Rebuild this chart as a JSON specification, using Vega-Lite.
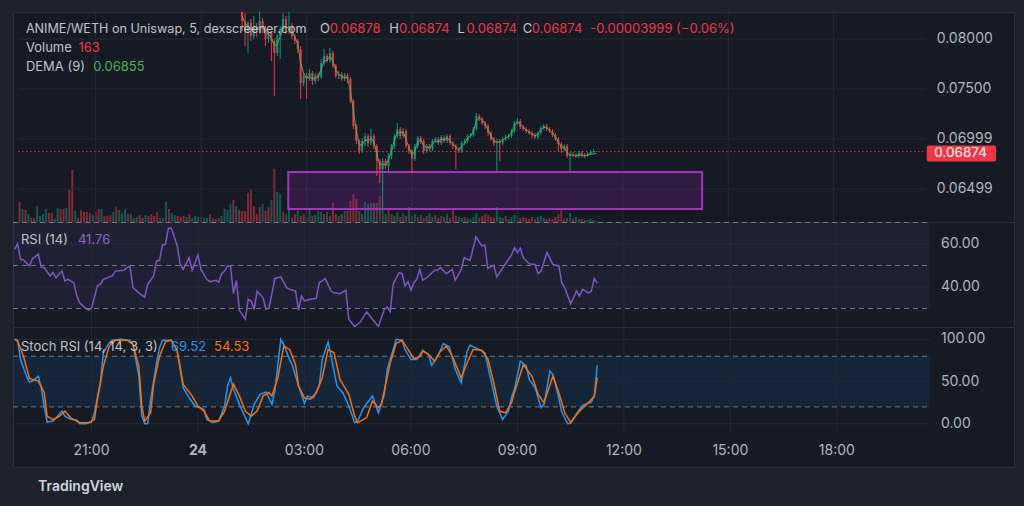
{
"$schema":"https://vega.github.io/schema/vega-lite/v6.json",
"background":"#1e222d",
"padding":{"left":12,"top":11,"right":11,"bottom":14},
"bounds":"flush",
"config":{"font":"Inter","view":{"fill":"#161a25","stroke":"#2a2e39","strokeWidth":1},"text":{"font":"Inter"}},
"title":{"text":"TradingView","orient":"bottom","anchor":"start","offset":12,"dx":26,"fontSize":14,"fontWeight":600,"color":"#d1d4dc","font":"Inter","baseline":"top"},
"datasets":{
"bars":[
{"i":14,"o":0.0833,"h":0.0836,"l":0.0808,"c":0.0818,"e":0.0823},
{"i":15,"o":0.0818,"h":0.0826,"l":0.0793,"c":0.0808,"e":0.0816},
{"i":16,"o":0.0808,"h":0.0818,"l":0.0786,"c":0.0816,"e":0.0813},
{"i":17,"o":0.0816,"h":0.0820,"l":0.0798,"c":0.0803,"e":0.0810},
{"i":18,"o":0.0803,"h":0.0823,"l":0.0800,"c":0.0813,"e":0.0810},
{"i":19,"o":0.0813,"h":0.0816,"l":0.0802,"c":0.0808,"e":0.0809},
{"i":20,"o":0.0808,"h":0.0828,"l":0.0805,"c":0.0818,"e":0.0812},
{"i":21,"o":0.0818,"h":0.0821,"l":0.0806,"c":0.0810,"e":0.0812},
{"i":22,"o":0.0810,"h":0.0813,"l":0.0793,"c":0.0800,"e":0.0807},
{"i":23,"o":0.0800,"h":0.0808,"l":0.0796,"c":0.0806,"e":0.0805},
{"i":24,"o":0.0806,"h":0.0808,"l":0.0778,"c":0.0798,"e":0.0801},
{"i":25,"o":0.0798,"h":0.0800,"l":0.0743,"c":0.0786,"e":0.0793},
{"i":26,"o":0.0786,"h":0.0805,"l":0.0783,"c":0.0803,"e":0.0795},
{"i":27,"o":0.0803,"h":0.0813,"l":0.0780,"c":0.0810,"e":0.0802},
{"i":28,"o":0.0810,"h":0.0826,"l":0.0808,"c":0.0820,"e":0.0811},
{"i":29,"o":0.0820,"h":0.0823,"l":0.0805,"c":0.0808,"e":0.0811},
{"i":30,"o":0.0808,"h":0.0838,"l":0.0805,"c":0.0813,"e":0.0812},
{"i":31,"o":0.0813,"h":0.0816,"l":0.0800,"c":0.0803,"e":0.0808},
{"i":32,"o":0.0803,"h":0.0805,"l":0.0795,"c":0.0798,"e":0.0802},
{"i":33,"o":0.0798,"h":0.0800,"l":0.0786,"c":0.0790,"e":0.0795},
{"i":34,"o":0.0790,"h":0.0793,"l":0.0740,"c":0.0756,"e":0.0776},
{"i":35,"o":0.0756,"h":0.0766,"l":0.0753,"c":0.0763,"e":0.0766},
{"i":36,"o":0.0763,"h":0.0766,"l":0.0740,"c":0.0760,"e":0.0761},
{"i":37,"o":0.0760,"h":0.0770,"l":0.0758,"c":0.0766,"e":0.0762},
{"i":38,"o":0.0766,"h":0.0768,"l":0.0754,"c":0.0758,"e":0.0760},
{"i":39,"o":0.0758,"h":0.0766,"l":0.0755,"c":0.0764,"e":0.0761},
{"i":40,"o":0.0764,"h":0.0766,"l":0.0758,"c":0.0762,"e":0.0762},
{"i":41,"o":0.0762,"h":0.0780,"l":0.0760,"c":0.0776,"e":0.0770},
{"i":42,"o":0.0776,"h":0.0790,"l":0.0774,"c":0.0783,"e":0.0778},
{"i":43,"o":0.0783,"h":0.0785,"l":0.0776,"c":0.0778,"e":0.0779},
{"i":44,"o":0.0778,"h":0.0791,"l":0.0776,"c":0.0786,"e":0.0783},
{"i":45,"o":0.0786,"h":0.0788,"l":0.0771,"c":0.0773,"e":0.0778},
{"i":46,"o":0.0773,"h":0.0775,"l":0.0761,"c":0.0763,"e":0.0769},
{"i":47,"o":0.0763,"h":0.0768,"l":0.0760,"c":0.0765,"e":0.0765},
{"i":48,"o":0.0765,"h":0.0767,"l":0.0758,"c":0.0760,"e":0.0762},
{"i":49,"o":0.0760,"h":0.0766,"l":0.0758,"c":0.0764,"e":0.0762},
{"i":50,"o":0.0764,"h":0.0766,"l":0.0756,"c":0.0760,"e":0.0761},
{"i":51,"o":0.0760,"h":0.0762,"l":0.0736,"c":0.0738,"e":0.0748},
{"i":52,"o":0.0738,"h":0.0740,"l":0.0710,"c":0.0713,"e":0.0728},
{"i":53,"o":0.0713,"h":0.0715,"l":0.0695,"c":0.0698,"e":0.0708},
{"i":54,"o":0.0698,"h":0.0700,"l":0.0685,"c":0.0688,"e":0.0694},
{"i":55,"o":0.0688,"h":0.0701,"l":0.0686,"c":0.0698,"e":0.0694},
{"i":56,"o":0.0698,"h":0.0706,"l":0.0693,"c":0.0703,"e":0.0699},
{"i":57,"o":0.0703,"h":0.0705,"l":0.0692,"c":0.0696,"e":0.0698},
{"i":58,"o":0.0696,"h":0.0710,"l":0.0694,"c":0.0703,"e":0.0701},
{"i":59,"o":0.0703,"h":0.0705,"l":0.0690,"c":0.0693,"e":0.0697},
{"i":60,"o":0.0693,"h":0.0695,"l":0.0663,"c":0.0678,"e":0.0685},
{"i":61,"o":0.0678,"h":0.0680,"l":0.0656,"c":0.0670,"e":0.0674},
{"i":62,"o":0.0670,"h":0.0681,"l":0.0628,"c":0.0678,"e":0.0675},
{"i":63,"o":0.0678,"h":0.0680,"l":0.0670,"c":0.0673,"e":0.0674},
{"i":64,"o":0.0673,"h":0.0686,"l":0.0668,"c":0.0683,"e":0.0679},
{"i":65,"o":0.0683,"h":0.0695,"l":0.0680,"c":0.0693,"e":0.0688},
{"i":66,"o":0.0693,"h":0.0705,"l":0.0690,"c":0.0703,"e":0.0698},
{"i":67,"o":0.0703,"h":0.0716,"l":0.0701,"c":0.0710,"e":0.0707},
{"i":68,"o":0.0710,"h":0.0712,"l":0.0700,"c":0.0703,"e":0.0706},
{"i":69,"o":0.0703,"h":0.0711,"l":0.0701,"c":0.0708,"e":0.0707},
{"i":70,"o":0.0708,"h":0.0710,"l":0.0691,"c":0.0693,"e":0.0699},
{"i":71,"o":0.0693,"h":0.0695,"l":0.0685,"c":0.0688,"e":0.0692},
{"i":72,"o":0.0688,"h":0.0690,"l":0.0666,"c":0.0680,"e":0.0684},
{"i":73,"o":0.0680,"h":0.0695,"l":0.0678,"c":0.0693,"e":0.0688},
{"i":74,"o":0.0693,"h":0.0703,"l":0.0690,"c":0.0701,"e":0.0697},
{"i":75,"o":0.0701,"h":0.0703,"l":0.0695,"c":0.0698,"e":0.0699},
{"i":76,"o":0.0698,"h":0.0700,"l":0.0685,"c":0.0688,"e":0.0693},
{"i":77,"o":0.0688,"h":0.0695,"l":0.0686,"c":0.0693,"e":0.0692},
{"i":78,"o":0.0693,"h":0.0695,"l":0.0688,"c":0.0690,"e":0.0691},
{"i":79,"o":0.0690,"h":0.0700,"l":0.0688,"c":0.0698,"e":0.0695},
{"i":80,"o":0.0698,"h":0.0702,"l":0.0696,"c":0.0700,"e":0.0698},
{"i":81,"o":0.0700,"h":0.0702,"l":0.0694,"c":0.0696,"e":0.0697},
{"i":82,"o":0.0696,"h":0.0704,"l":0.0694,"c":0.0702,"e":0.0700},
{"i":83,"o":0.0702,"h":0.0704,"l":0.0696,"c":0.0698,"e":0.0699},
{"i":84,"o":0.0698,"h":0.0705,"l":0.0696,"c":0.0703,"e":0.0701},
{"i":85,"o":0.0703,"h":0.0705,"l":0.0694,"c":0.0696,"e":0.0698},
{"i":86,"o":0.0696,"h":0.0698,"l":0.0690,"c":0.0693,"e":0.0695},
{"i":87,"o":0.0693,"h":0.0695,"l":0.0670,"c":0.0690,"e":0.0692},
{"i":88,"o":0.0690,"h":0.0692,"l":0.0686,"c":0.0688,"e":0.0689},
{"i":89,"o":0.0688,"h":0.0698,"l":0.0686,"c":0.0696,"e":0.0693},
{"i":90,"o":0.0696,"h":0.0700,"l":0.0694,"c":0.0698,"e":0.0696},
{"i":91,"o":0.0698,"h":0.0705,"l":0.0696,"c":0.0703,"e":0.0701},
{"i":92,"o":0.0703,"h":0.0706,"l":0.0701,"c":0.0704,"e":0.0703},
{"i":93,"o":0.0704,"h":0.0712,"l":0.0702,"c":0.0710,"e":0.0708},
{"i":94,"o":0.0710,"h":0.0726,"l":0.0708,"c":0.0723,"e":0.0718},
{"i":95,"o":0.0723,"h":0.0725,"l":0.0718,"c":0.0720,"e":0.0721},
{"i":96,"o":0.0720,"h":0.0722,"l":0.0714,"c":0.0716,"e":0.0719},
{"i":97,"o":0.0716,"h":0.0718,"l":0.0710,"c":0.0713,"e":0.0715},
{"i":98,"o":0.0713,"h":0.0715,"l":0.0703,"c":0.0706,"e":0.0709},
{"i":99,"o":0.0706,"h":0.0708,"l":0.0698,"c":0.0700,"e":0.0703},
{"i":100,"o":0.0700,"h":0.0702,"l":0.0693,"c":0.0696,"e":0.0698},
{"i":101,"o":0.0696,"h":0.0700,"l":0.0668,"c":0.0698,"e":0.0697},
{"i":102,"o":0.0698,"h":0.0700,"l":0.0678,"c":0.0696,"e":0.0697},
{"i":103,"o":0.0696,"h":0.0702,"l":0.0694,"c":0.0700,"e":0.0699},
{"i":104,"o":0.0700,"h":0.0704,"l":0.0698,"c":0.0702,"e":0.0701},
{"i":105,"o":0.0702,"h":0.0705,"l":0.0700,"c":0.0703,"e":0.0703},
{"i":106,"o":0.0703,"h":0.0710,"l":0.0701,"c":0.0708,"e":0.0706},
{"i":107,"o":0.0708,"h":0.0718,"l":0.0706,"c":0.0716,"e":0.0713},
{"i":108,"o":0.0716,"h":0.0721,"l":0.0714,"c":0.0718,"e":0.0717},
{"i":109,"o":0.0718,"h":0.0720,"l":0.0710,"c":0.0712,"e":0.0715},
{"i":110,"o":0.0712,"h":0.0714,"l":0.0708,"c":0.0710,"e":0.0712},
{"i":111,"o":0.0710,"h":0.0712,"l":0.0706,"c":0.0708,"e":0.0709},
{"i":112,"o":0.0708,"h":0.0710,"l":0.0704,"c":0.0706,"e":0.0707},
{"i":113,"o":0.0706,"h":0.0708,"l":0.0701,"c":0.0704,"e":0.0705},
{"i":114,"o":0.0704,"h":0.0706,"l":0.0700,"c":0.0702,"e":0.0703},
{"i":115,"o":0.0702,"h":0.0708,"l":0.0700,"c":0.0706,"e":0.0705},
{"i":116,"o":0.0706,"h":0.0713,"l":0.0704,"c":0.0711,"e":0.0709},
{"i":117,"o":0.0711,"h":0.0715,"l":0.0709,"c":0.0713,"e":0.0712},
{"i":118,"o":0.0713,"h":0.0715,"l":0.0708,"c":0.0710,"e":0.0711},
{"i":119,"o":0.0710,"h":0.0712,"l":0.0706,"c":0.0708,"e":0.0709},
{"i":120,"o":0.0708,"h":0.0710,"l":0.0702,"c":0.0704,"e":0.0706},
{"i":121,"o":0.0704,"h":0.0706,"l":0.0698,"c":0.0700,"e":0.0702},
{"i":122,"o":0.0700,"h":0.0702,"l":0.0688,"c":0.0695,"e":0.0697},
{"i":123,"o":0.0695,"h":0.0697,"l":0.0686,"c":0.0690,"e":0.0692},
{"i":124,"o":0.0690,"h":0.0695,"l":0.0688,"c":0.0693,"e":0.0692},
{"i":125,"o":0.0693,"h":0.0695,"l":0.0681,"c":0.0683,"e":0.0686},
{"i":126,"o":0.0683,"h":0.0687,"l":0.0668,"c":0.0685,"e":0.0684},
{"i":127,"o":0.0685,"h":0.0687,"l":0.0682,"c":0.0684,"e":0.0684},
{"i":128,"o":0.0684,"h":0.0686,"l":0.0681,"c":0.0683,"e":0.0683},
{"i":129,"o":0.0683,"h":0.0688,"l":0.0681,"c":0.0686,"e":0.0684},
{"i":130,"o":0.0686,"h":0.0688,"l":0.0682,"c":0.0684,"e":0.0684},
{"i":131,"o":0.0684,"h":0.0686,"l":0.0681,"c":0.0683,"e":0.0683},
{"i":132,"o":0.0683,"h":0.0687,"l":0.0682,"c":0.0685,"e":0.0684},
{"i":133,"o":0.0685,"h":0.0689,"l":0.0684,"c":0.0687,"e":0.0685},
{"i":134,"o":0.0687,"h":0.0690,"l":0.0686,"c":0.06878,"e":0.0685},
{"i":135,"o":0.06878,"h":0.06878,"l":0.06874,"c":0.06874,"e":0.06855}
],
"vol":[
{"i":-62,"v":3200,"u":0},{"i":-61,"v":2080,"u":1},{"i":-60,"v":1920,"u":0},{"i":-59,"v":1280,"u":1},{"i":-58,"v":640,"u":0},{"i":-57,"v":640,"u":0},{"i":-56,"v":2560,"u":1},{"i":-55,"v":960,"u":1},{"i":-54,"v":1280,"u":1},{"i":-53,"v":2080,"u":1},{"i":-52,"v":1440,"u":0},{"i":-51,"v":1440,"u":0},{"i":-50,"v":480,"u":1},{"i":-49,"v":2240,"u":1},{"i":-48,"v":2080,"u":0},{"i":-47,"v":2080,"u":0},{"i":-46,"v":2240,"u":1},{"i":-45,"v":5120,"u":0},{"i":-44,"v":8320,"u":0},{"i":-43,"v":1760,"u":1},{"i":-42,"v":640,"u":0},{"i":-41,"v":1920,"u":0},{"i":-40,"v":1600,"u":0},{"i":-39,"v":1600,"u":0},{"i":-38,"v":1440,"u":0},{"i":-37,"v":1120,"u":1},{"i":-36,"v":1600,"u":0},{"i":-35,"v":2080,"u":0},{"i":-34,"v":2080,"u":1},{"i":-33,"v":960,"u":0},{"i":-32,"v":960,"u":0},{"i":-31,"v":1120,"u":0},{"i":-30,"v":1600,"u":1},{"i":-29,"v":2400,"u":0},{"i":-28,"v":1920,"u":1},{"i":-27,"v":1440,"u":1},{"i":-26,"v":2080,"u":1},{"i":-25,"v":1280,"u":0},{"i":-24,"v":1280,"u":1},{"i":-23,"v":640,"u":0},{"i":-22,"v":800,"u":1},{"i":-21,"v":1120,"u":0},{"i":-20,"v":640,"u":0},{"i":-19,"v":1120,"u":1},{"i":-18,"v":960,"u":0},{"i":-17,"v":1280,"u":0},{"i":-16,"v":960,"u":0},{"i":-15,"v":1600,"u":0},{"i":-14,"v":640,"u":1},{"i":-13,"v":640,"u":0},{"i":-12,"v":3200,"u":1},{"i":-11,"v":2080,"u":0},{"i":-10,"v":1440,"u":1},{"i":-9,"v":1120,"u":1},{"i":-8,"v":960,"u":0},{"i":-7,"v":800,"u":0},{"i":-6,"v":960,"u":0},{"i":-5,"v":800,"u":1},{"i":-4,"v":1280,"u":0},{"i":-3,"v":640,"u":1},{"i":-2,"v":960,"u":1},{"i":-1,"v":800,"u":1},
{"i":0,"v":800,"u":0},{"i":1,"v":640,"u":1},{"i":2,"v":640,"u":1},{"i":3,"v":1280,"u":0},{"i":4,"v":640,"u":1},{"i":5,"v":480,"u":0},{"i":6,"v":640,"u":0},{"i":7,"v":960,"u":1},{"i":8,"v":2080,"u":1},{"i":9,"v":1920,"u":1},{"i":10,"v":2880,"u":1},{"i":11,"v":3520,"u":0},{"i":12,"v":2560,"u":1},{"i":13,"v":1920,"u":0},{"i":14,"v":1760,"u":0},{"i":15,"v":1760,"u":0},{"i":16,"v":4640,"u":0},{"i":17,"v":5120,"u":0},{"i":18,"v":2560,"u":0},{"i":19,"v":1280,"u":0},{"i":20,"v":2400,"u":0},{"i":21,"v":2880,"u":1},{"i":22,"v":1760,"u":0},{"i":23,"v":2400,"u":0},{"i":24,"v":3520,"u":1},{"i":25,"v":8480,"u":0},{"i":26,"v":4800,"u":1},{"i":27,"v":4480,"u":1},{"i":28,"v":1600,"u":0},{"i":29,"v":1280,"u":1},{"i":30,"v":2560,"u":1},{"i":31,"v":640,"u":0},{"i":32,"v":1280,"u":0},{"i":33,"v":1760,"u":1},{"i":34,"v":960,"u":0},{"i":35,"v":1280,"u":0},{"i":36,"v":800,"u":1},{"i":37,"v":1920,"u":1},{"i":38,"v":960,"u":0},{"i":39,"v":1120,"u":1},{"i":40,"v":1760,"u":1},{"i":41,"v":1600,"u":1},{"i":42,"v":1280,"u":0},{"i":43,"v":1600,"u":1},{"i":44,"v":960,"u":0},{"i":45,"v":3040,"u":0},{"i":46,"v":1280,"u":0},{"i":47,"v":960,"u":1},{"i":48,"v":1280,"u":0},{"i":49,"v":1760,"u":1},{"i":50,"v":1760,"u":0},{"i":51,"v":3360,"u":0},{"i":52,"v":4480,"u":0},{"i":53,"v":3680,"u":0},{"i":54,"v":1760,"u":1},{"i":55,"v":1280,"u":0},{"i":56,"v":3200,"u":1},{"i":57,"v":2880,"u":1},{"i":58,"v":3040,"u":1},{"i":59,"v":3040,"u":0},{"i":60,"v":3040,"u":1},{"i":61,"v":4160,"u":0},{"i":62,"v":1760,"u":1},{"i":63,"v":1280,"u":1},{"i":64,"v":1920,"u":0},{"i":65,"v":1280,"u":1},{"i":66,"v":960,"u":0},{"i":67,"v":1600,"u":1},{"i":68,"v":800,"u":0},{"i":69,"v":1280,"u":1},{"i":70,"v":960,"u":0},{"i":71,"v":2400,"u":1},{"i":72,"v":960,"u":0},{"i":73,"v":1280,"u":1},{"i":74,"v":800,"u":0},{"i":75,"v":1120,"u":1},{"i":76,"v":640,"u":0},{"i":77,"v":960,"u":0},{"i":78,"v":1440,"u":1},{"i":79,"v":800,"u":1},{"i":80,"v":1120,"u":0},{"i":81,"v":640,"u":0},{"i":82,"v":960,"u":1},{"i":83,"v":800,"u":0},{"i":84,"v":1280,"u":1},{"i":85,"v":640,"u":0},{"i":86,"v":2080,"u":0},{"i":87,"v":960,"u":0},{"i":88,"v":800,"u":1},{"i":89,"v":640,"u":1},{"i":90,"v":800,"u":0},{"i":91,"v":640,"u":1},{"i":92,"v":480,"u":1},{"i":93,"v":800,"u":1},{"i":94,"v":1440,"u":1},{"i":95,"v":640,"u":0},{"i":96,"v":960,"u":0},{"i":97,"v":1280,"u":0},{"i":98,"v":1120,"u":0},{"i":99,"v":800,"u":0},{"i":100,"v":640,"u":0},{"i":101,"v":2400,"u":1},{"i":102,"v":800,"u":1},{"i":103,"v":640,"u":1},{"i":104,"v":960,"u":0},{"i":105,"v":480,"u":1},{"i":106,"v":800,"u":1},{"i":107,"v":1120,"u":1},{"i":108,"v":960,"u":1},{"i":109,"v":640,"u":0},{"i":110,"v":800,"u":0},{"i":111,"v":640,"u":0},{"i":112,"v":480,"u":0},{"i":113,"v":800,"u":0},{"i":114,"v":480,"u":0},{"i":115,"v":800,"u":1},{"i":116,"v":960,"u":1},{"i":117,"v":640,"u":1},{"i":118,"v":480,"u":0},{"i":119,"v":640,"u":0},{"i":120,"v":480,"u":0},{"i":121,"v":800,"u":0},{"i":122,"v":1280,"u":0},{"i":123,"v":1920,"u":0},{"i":124,"v":480,"u":1},{"i":125,"v":640,"u":0},{"i":126,"v":1440,"u":1},{"i":127,"v":480,"u":0},{"i":128,"v":800,"u":1},{"i":129,"v":480,"u":0},{"i":130,"v":480,"u":1},{"i":131,"v":320,"u":0},{"i":132,"v":320,"u":1},{"i":133,"v":480,"u":1},{"i":134,"v":320,"u":1},{"i":135,"v":163,"u":0}
],
"rsi":[
{"i":-62,"r":57.5},{"i":-61,"r":60.1},{"i":-60,"r":53},{"i":-59,"r":52.6},{"i":-57,"r":49.8},{"i":-56,"r":53},{"i":-54,"r":55.3},{"i":-53,"r":49.3},{"i":-52,"r":49},{"i":-50,"r":45.1},{"i":-49,"r":46.7},{"i":-48,"r":44.3},{"i":-46,"r":47.4},{"i":-45,"r":42.8},{"i":-44,"r":43.6},{"i":-42,"r":42},{"i":-41,"r":36},{"i":-40,"r":32.7},{"i":-38,"r":30.1},{"i":-37,"r":29.2},{"i":-36,"r":30.1},{"i":-34,"r":40.5},{"i":-33,"r":41.3},{"i":-32,"r":43.6},{"i":-30,"r":44.7},{"i":-29,"r":45.1},{"i":-28,"r":47.4},{"i":-25,"r":47.8},{"i":-24,"r":49},{"i":-23,"r":49.8},{"i":-22,"r":39.7},{"i":-20,"r":37.3},{"i":-18,"r":35.3},{"i":-17,"r":41.3},{"i":-15,"r":45.1},{"i":-14,"r":52.1},{"i":-13,"r":52.4},{"i":-12,"r":59.5},{"i":-11,"r":59.8},{"i":-10,"r":67.3},{"i":-9,"r":67.3},{"i":-7,"r":59.1},{"i":-6,"r":50.8},{"i":-5,"r":48.2},{"i":-3,"r":53.6},{"i":-2,"r":47.8},{"i":0,"r":54.9},{"i":1,"r":48.2},{"i":3,"r":43.6},{"i":4,"r":42.5},{"i":6,"r":43.1},{"i":7,"r":42.3},{"i":8,"r":46.2},{"i":9,"r":47.4},{"i":10,"r":49.8},{"i":11,"r":49.8},{"i":12,"r":36.9},{"i":13,"r":43.1},{"i":14,"r":29.2},{"i":16,"r":25},{"i":17,"r":34.3},{"i":18,"r":33.5},{"i":19,"r":29.6},{"i":20,"r":38.1},{"i":22,"r":35},{"i":23,"r":29.6},{"i":24,"r":30.1},{"i":26,"r":44},{"i":28,"r":44.7},{"i":30,"r":39.7},{"i":31,"r":38.9},{"i":33,"r":38.1},{"i":34,"r":29.2},{"i":35,"r":35.8},{"i":36,"r":33.5},{"i":38,"r":34.3},{"i":40,"r":34.7},{"i":41,"r":42},{"i":42,"r":42.8},{"i":43,"r":44},{"i":45,"r":38.1},{"i":46,"r":37.3},{"i":48,"r":36.9},{"i":50,"r":38.5},{"i":51,"r":25},{"i":53,"r":21.6},{"i":55,"r":23.9},{"i":57,"r":28.5},{"i":59,"r":25},{"i":61,"r":21.6},{"i":63,"r":29.6},{"i":64,"r":30.7},{"i":65,"r":28.5},{"i":66,"r":41.3},{"i":68,"r":46.7},{"i":69,"r":46.2},{"i":70,"r":40.5},{"i":71,"r":42.5},{"i":72,"r":38.5},{"i":73,"r":42},{"i":74,"r":43.6},{"i":75,"r":48.2},{"i":76,"r":43.1},{"i":78,"r":45.1},{"i":80,"r":47.8},{"i":81,"r":47.8},{"i":82,"r":49},{"i":84,"r":46.2},{"i":86,"r":48.2},{"i":87,"r":43.1},{"i":89,"r":48.2},{"i":90,"r":53.6},{"i":92,"r":52.4},{"i":94,"r":63.3},{"i":96,"r":59.1},{"i":97,"r":59.5},{"i":98,"r":48.7},{"i":100,"r":50.2},{"i":101,"r":44.7},{"i":104,"r":50.8},{"i":106,"r":54.9},{"i":107,"r":58.3},{"i":108,"r":56},{"i":109,"r":58},{"i":110,"r":53.6},{"i":112,"r":50.8},{"i":114,"r":50.5},{"i":115,"r":46.2},{"i":116,"r":47.4},{"i":118,"r":56},{"i":120,"r":50.5},{"i":122,"r":49.8},{"i":123,"r":42},{"i":124,"r":39.7},{"i":126,"r":32.2},{"i":128,"r":38.1},{"i":129,"r":35.8},{"i":130,"r":38.9},{"i":132,"r":37.3},{"i":133,"r":38.1},{"i":134,"r":44},{"i":135,"r":41.76}
],
"k":[
{"i":-62,"v":100},{"i":-61,"v":99},{"i":-60,"v":76},{"i":-58,"v":56.5},{"i":-57,"v":49.4},{"i":-56,"v":50.6},{"i":-54,"v":56.5},{"i":-53,"v":42.7},{"i":-52,"v":21},{"i":-51,"v":2},{"i":-49,"v":3.2},{"i":-47,"v":11},{"i":-46,"v":15},{"i":-45,"v":9},{"i":-43,"v":5.2},{"i":-41,"v":4.4},{"i":-40,"v":0},{"i":-38,"v":0},{"i":-36,"v":2},{"i":-35,"v":13},{"i":-33,"v":48.6},{"i":-32,"v":84},{"i":-30,"v":96},{"i":-29,"v":99},{"i":-26,"v":100},{"i":-23,"v":99},{"i":-22,"v":94},{"i":-20,"v":56.5},{"i":-19,"v":9},{"i":-18,"v":0},{"i":-17,"v":0},{"i":-16,"v":29},{"i":-14,"v":72},{"i":-13,"v":90},{"i":-12,"v":99},{"i":-9,"v":99},{"i":-7,"v":86},{"i":-5,"v":42.7},{"i":-3,"v":30.8},{"i":-1,"v":21},{"i":2,"v":17},{"i":3,"v":5.2},{"i":5,"v":1.2},{"i":7,"v":3.2},{"i":9,"v":21},{"i":10,"v":44.7},{"i":11,"v":54.5},{"i":12,"v":40.8},{"i":14,"v":23},{"i":17,"v":0},{"i":19,"v":23},{"i":21,"v":34.8},{"i":23,"v":37.6},{"i":25,"v":23},{"i":26,"v":38.7},{"i":28,"v":100},{"i":29,"v":94},{"i":31,"v":76},{"i":32,"v":68.4},{"i":34,"v":44.7},{"i":36,"v":24.2},{"i":37,"v":32.8},{"i":39,"v":30.8},{"i":41,"v":44.7},{"i":42,"v":76},{"i":44,"v":96.8},{"i":45,"v":80.2},{"i":47,"v":44.7},{"i":49,"v":36.7},{"i":51,"v":21},{"i":53,"v":1.2},{"i":54,"v":3.2},{"i":56,"v":19},{"i":59,"v":32.8},{"i":61,"v":13},{"i":63,"v":34.8},{"i":64,"v":64.5},{"i":66,"v":88},{"i":67,"v":100},{"i":69,"v":99},{"i":70,"v":88},{"i":72,"v":76},{"i":74,"v":76},{"i":76,"v":87},{"i":78,"v":82},{"i":79,"v":69},{"i":81,"v":80},{"i":83,"v":95},{"i":85,"v":91},{"i":87,"v":64.5},{"i":89,"v":48.6},{"i":91,"v":86},{"i":92,"v":93},{"i":95,"v":88},{"i":97,"v":84},{"i":99,"v":52.6},{"i":101,"v":21},{"i":103,"v":5.2},{"i":105,"v":15},{"i":106,"v":30.8},{"i":107,"v":40.8},{"i":109,"v":74},{"i":111,"v":68.4},{"i":112,"v":52.6},{"i":114,"v":42.7},{"i":116,"v":19},{"i":117,"v":23},{"i":119,"v":62.4},{"i":120,"v":58.5},{"i":122,"v":30.8},{"i":123,"v":13.9},{"i":125,"v":0},{"i":126,"v":0.5},{"i":128,"v":12.3},{"i":130,"v":21.8},{"i":133,"v":25.7},{"i":134,"v":32.8},{"i":135,"v":69.52}
],
"d":[
{"i":-62,"v":100},{"i":-61,"v":98},{"i":-59,"v":80},{"i":-57,"v":54},{"i":-56,"v":52.6},{"i":-54,"v":50.6},{"i":-52,"v":37},{"i":-51,"v":9},{"i":-49,"v":5},{"i":-47,"v":8.4},{"i":-45,"v":15},{"i":-43,"v":7},{"i":-40,"v":1.2},{"i":-37,"v":1.2},{"i":-35,"v":5},{"i":-34,"v":29},{"i":-32,"v":68},{"i":-30,"v":92},{"i":-28,"v":99},{"i":-24,"v":99},{"i":-22,"v":94},{"i":-20,"v":68},{"i":-19,"v":21},{"i":-18,"v":3.2},{"i":-16,"v":13},{"i":-15,"v":47},{"i":-13,"v":80},{"i":-11,"v":97},{"i":-9,"v":99},{"i":-7,"v":86},{"i":-5,"v":46.7},{"i":-2,"v":33},{"i":0,"v":21},{"i":2,"v":15},{"i":4,"v":3.2},{"i":7,"v":3.2},{"i":9,"v":15},{"i":12,"v":47},{"i":14,"v":33},{"i":16,"v":15},{"i":18,"v":9},{"i":20,"v":15},{"i":22,"v":33},{"i":24,"v":37},{"i":25,"v":33},{"i":27,"v":54.5},{"i":29,"v":92},{"i":31,"v":88},{"i":33,"v":70},{"i":34,"v":44.7},{"i":36,"v":30.8},{"i":38,"v":29},{"i":40,"v":36.7},{"i":42,"v":54.5},{"i":44,"v":88},{"i":46,"v":84},{"i":48,"v":52.6},{"i":51,"v":34.8},{"i":53,"v":9},{"i":54,"v":1.2},{"i":57,"v":7},{"i":59,"v":27},{"i":61,"v":19},{"i":62,"v":23},{"i":65,"v":72},{"i":67,"v":95},{"i":69,"v":99},{"i":71,"v":88},{"i":73,"v":77},{"i":75,"v":79.6},{"i":76,"v":86},{"i":78,"v":82},{"i":80,"v":74},{"i":82,"v":86},{"i":84,"v":92},{"i":86,"v":80},{"i":89,"v":54.5},{"i":91,"v":72},{"i":93,"v":88},{"i":96,"v":87},{"i":98,"v":77},{"i":100,"v":48.6},{"i":102,"v":15},{"i":104,"v":13},{"i":106,"v":25},{"i":107,"v":37},{"i":110,"v":70},{"i":113,"v":56},{"i":115,"v":34.8},{"i":117,"v":25},{"i":120,"v":56.5},{"i":122,"v":37},{"i":124,"v":13},{"i":126,"v":1.6},{"i":129,"v":15},{"i":132,"v":25},{"i":134,"v":32.8},{"i":135,"v":54.53}
]
},
"vconcat":[
{
"width":1001,"height":210,
"resolve":{"scale":{"y":"independent"}},
"layer":[
{"data":{"name":"vol"},"mark":{"type":"bar","width":2,"opacity":0.5},
 "encoding":{"x":{"field":"i","type":"quantitative","scale":{"domain":[-62.54,275.9],"nice":false,"zero":false},"axis":null},
 "y":{"field":"v","type":"quantitative","scale":{"domain":[0,33600],"nice":false},"axis":null},
 "color":{"condition":{"test":"datum.u==1","value":"#089981"},"value":"#f23645"}}},
{"data":{"values":[{}]},
 "layer":[
 {"data":{"values":[{"g":-36},{"g":0},{"g":36},{"g":72},{"g":108},{"g":144},{"g":180},{"g":216}]},"mark":{"type":"rule","color":"#252934"},
  "encoding":{"x":{"field":"g","type":"quantitative","axis":null}}},
 {"data":{"values":[{"p":0.08},{"p":0.075},{"p":0.07},{"p":0.065}]},"mark":{"type":"rule","color":"#252934"},
  "encoding":{"y":{"field":"p","type":"quantitative","scale":{"domain":[0.0617,0.0827],"nice":false,"zero":false},"axis":null},
   "x":{"datum":-62.54,"axis":null},"x2":{"datum":247.5}}},
 {"mark":{"type":"rect","fill":"#9c27b0","fillOpacity":0.2,"stroke":"#a231bd","strokeWidth":2},
  "encoding":{"x":{"datum":29.75,"axis":null},"x2":{"datum":171.1},"y":{"datum":0.0667,"axis":null},"y2":{"datum":0.063}}},
 {"mark":{"type":"rule","color":"#f23645","strokeDash":[1.5,2.5],"strokeWidth":1},
  "encoding":{"y":{"datum":0.06874,"axis":null},"x":{"datum":-62.54,"axis":null},"x2":{"datum":247.5}}},
 {"data":{"name":"bars"},"mark":{"type":"rule","strokeWidth":1,"clip":true},
  "encoding":{"x":{"field":"i","type":"quantitative","axis":null},"y":{"field":"l","type":"quantitative","axis":null},"y2":{"field":"h"},
  "color":{"condition":{"test":"datum.c>=datum.o","value":"#089981"},"value":"#f23645"}}},
 {"data":{"name":"bars"},"mark":{"type":"bar","width":2,"clip":true},
  "encoding":{"x":{"field":"i","type":"quantitative","axis":null},"y":{"field":"o","type":"quantitative","axis":null},"y2":{"field":"c"},
  "color":{"condition":{"test":"datum.c>=datum.o","value":"#089981"},"value":"#f23645"}}},
 {"data":{"name":"bars"},"mark":{"type":"line","color":"#4caf50","strokeWidth":1,"clip":true},
  "encoding":{"x":{"field":"i","type":"quantitative","axis":null},"y":{"field":"e","type":"quantitative","axis":null}}},
 {"data":{"values":[{"p":0.08},{"p":0.075},{"p":0.06999},{"p":0.06499}]},"mark":{"type":"text","align":"left","baseline":"middle","fontSize":14,"color":"#b2b5be"},
  "encoding":{"y":{"field":"p","type":"quantitative","axis":null},"x":{"datum":251.2,"axis":null},"text":{"field":"p","type":"quantitative","format":".5f"}}},
 {"mark":{"type":"rect","fill":"#f23645","cornerRadius":2},
  "encoding":{"x":{"datum":247.8,"axis":null},"x2":{"datum":271.5},"y":{"datum":0.06935,"axis":null},"y2":{"datum":0.06775}}},
 {"mark":{"type":"text","align":"left","baseline":"middle","fontSize":13.5,"color":"#ffffff"},
  "encoding":{"x":{"datum":250.4,"axis":null},"y":{"datum":0.06856,"axis":null},"text":{"value":"0.06874"}}},
 {"mark":{"type":"text","align":"left","baseline":"middle","fontSize":12.6,"color":"#c0c3ca"},
  "encoding":{"x":{"datum":-59.84,"axis":null},"y":{"datum":0.081,"axis":null},"text":{"value":"ANIME/WETH on Uniswap, 5, dexscreener.com"}}},
 {"mark":{"type":"text","align":"left","baseline":"middle","fontSize":13,"color":"#c0c3ca"},
  "encoding":{"x":{"datum":40.57,"axis":null},"y":{"datum":0.081,"axis":null},"text":{"value":"O"}}},
 {"mark":{"type":"text","align":"left","baseline":"middle","fontSize":13,"color":"#f23645"},
  "encoding":{"x":{"datum":43.95,"axis":null},"y":{"datum":0.081,"axis":null},"text":{"value":"0.06878"}}},
 {"mark":{"type":"text","align":"left","baseline":"middle","fontSize":13,"color":"#c0c3ca"},
  "encoding":{"x":{"datum":64.23,"axis":null},"y":{"datum":0.081,"axis":null},"text":{"value":"H"}}},
 {"mark":{"type":"text","align":"left","baseline":"middle","fontSize":13,"color":"#f23645"},
  "encoding":{"x":{"datum":67.61,"axis":null},"y":{"datum":0.081,"axis":null},"text":{"value":"0.06874"}}},
 {"mark":{"type":"text","align":"left","baseline":"middle","fontSize":13,"color":"#c0c3ca"},
  "encoding":{"x":{"datum":87.56,"axis":null},"y":{"datum":0.081,"axis":null},"text":{"value":"L"}}},
 {"mark":{"type":"text","align":"left","baseline":"middle","fontSize":13,"color":"#f23645"},
  "encoding":{"x":{"datum":90.6,"axis":null},"y":{"datum":0.081,"axis":null},"text":{"value":"0.06874"}}},
 {"mark":{"type":"text","align":"left","baseline":"middle","fontSize":13,"color":"#c0c3ca"},
  "encoding":{"x":{"datum":109.87,"axis":null},"y":{"datum":0.081,"axis":null},"text":{"value":"C"}}},
 {"mark":{"type":"text","align":"left","baseline":"middle","fontSize":13,"color":"#f23645"},
  "encoding":{"x":{"datum":112.9,"axis":null},"y":{"datum":0.081,"axis":null},"text":{"value":"0.06874"}}},
 {"mark":{"type":"text","align":"left","baseline":"middle","fontSize":13,"color":"#f23645"},
  "encoding":{"x":{"datum":132.86,"axis":null},"y":{"datum":0.081,"axis":null},"text":{"value":"-0.00003999 (−0.06%)"}}},
 {"mark":{"type":"text","align":"left","baseline":"middle","fontSize":13,"color":"#c0c3ca"},
  "encoding":{"x":{"datum":-59.84,"axis":null},"y":{"datum":0.0791,"axis":null},"text":{"value":"Volume"}}},
 {"mark":{"type":"text","align":"left","baseline":"middle","fontSize":13,"color":"#f23645"},
  "encoding":{"x":{"datum":-41.92,"axis":null},"y":{"datum":0.0791,"axis":null},"text":{"value":"163"}}},
 {"mark":{"type":"text","align":"left","baseline":"middle","fontSize":13,"color":"#c0c3ca"},
  "encoding":{"x":{"datum":-59.84,"axis":null},"y":{"datum":0.0772,"axis":null},"text":{"value":"DEMA (9)"}}},
 {"mark":{"type":"text","align":"left","baseline":"middle","fontSize":13,"color":"#4caf50"},
  "encoding":{"x":{"datum":-36.85,"axis":null},"y":{"datum":0.0772,"axis":null},"text":{"value":"0.06855"}}}
 ]}
]
},
{
"width":1001,"height":105,
"data":{"values":[{}]},
"layer":[
 {"mark":{"type":"rect","color":"#7e57c2","opacity":0.1},
  "encoding":{"x":{"datum":-62.54,"scale":{"domain":[-62.54,275.9],"nice":false,"zero":false},"axis":null},"x2":{"datum":247.5},
  "y":{"datum":30,"scale":{"domain":[21.4,70.23],"nice":false,"zero":false},"axis":null},"y2":{"datum":70}}},
 {"data":{"values":[{"g":-36},{"g":0},{"g":36},{"g":72},{"g":108},{"g":144},{"g":180},{"g":216}]},"mark":{"type":"rule","color":"#252934"},
  "encoding":{"x":{"field":"g","type":"quantitative","axis":null}}},
 {"data":{"values":[{"r":60},{"r":40}]},"mark":{"type":"rule","color":"#2a2d3c"},
  "encoding":{"y":{"field":"r","type":"quantitative","axis":null},"x":{"datum":-62.54,"axis":null},"x2":{"datum":247.5}}},
 {"data":{"values":[{"r":70},{"r":50},{"r":30}]},"mark":{"type":"rule","color":"#787b86","strokeDash":[5,4]},
  "encoding":{"y":{"field":"r","type":"quantitative","axis":null},"x":{"datum":-62.54,"axis":null},"x2":{"datum":247.5}}},
 {"data":{"name":"rsi"},"mark":{"type":"line","color":"#7e57c2","strokeWidth":1.5,"clip":true},
  "encoding":{"x":{"field":"i","type":"quantitative","axis":null},"y":{"field":"r","type":"quantitative","axis":null}}},
 {"data":{"values":[{"r":60},{"r":40}]},"mark":{"type":"text","align":"left","baseline":"middle","fontSize":14,"color":"#b2b5be"},
  "encoding":{"y":{"field":"r","type":"quantitative","axis":null},"x":{"datum":251.2,"axis":null},"text":{"field":"r","type":"quantitative","format":".2f"}}},
 {"mark":{"type":"text","align":"left","baseline":"middle","fontSize":13,"color":"#c0c3ca"},
  "encoding":{"x":{"datum":-59.84,"axis":null},"y":{"datum":61.86,"axis":null},"text":{"value":"RSI (14)"}}},
 {"mark":{"type":"text","align":"left","baseline":"middle","fontSize":13,"color":"#8e63d2"},
  "encoding":{"x":{"datum":-40.57,"axis":null},"y":{"datum":61.86,"axis":null},"text":{"value":"41.76"}}}
]
},
{
"width":1001,"height":140,
"data":{"values":[{}]},
"layer":[
 {"mark":{"type":"rect","color":"#2196f3","opacity":0.1},
  "encoding":{"x":{"datum":-62.54,"scale":{"domain":[-62.54,275.9],"nice":false,"zero":false},"axis":null},"x2":{"datum":247.5},
  "y":{"datum":20,"scale":{"domain":[-51.2,114.6],"nice":false,"zero":false},"axis":null},"y2":{"datum":80}}},
 {"data":{"values":[{"g":-36},{"g":0},{"g":36},{"g":72},{"g":108},{"g":144},{"g":180},{"g":216}]},"mark":{"type":"rule","color":"#252934"},
  "encoding":{"x":{"field":"g","type":"quantitative","axis":null},"y":{"datum":-11.4,"axis":null},"y2":{"datum":114.6}}},
 {"data":{"values":[{"s":100},{"s":50},{"s":0}]},"mark":{"type":"rule","color":"#252934"},
  "encoding":{"y":{"field":"s","type":"quantitative","axis":null},"x":{"datum":-62.54,"axis":null},"x2":{"datum":247.5}}},
 {"data":{"values":[{"s":80},{"s":20}]},"mark":{"type":"rule","color":"#787b86","strokeDash":[5,4]},
  "encoding":{"y":{"field":"s","type":"quantitative","axis":null},"x":{"datum":-62.54,"axis":null},"x2":{"datum":247.5}}},
 {"data":{"name":"k"},"mark":{"type":"line","color":"#2196f3","strokeWidth":1.5,"clip":true},
  "encoding":{"x":{"field":"i","type":"quantitative","axis":null},"y":{"field":"v","type":"quantitative","axis":null}}},
 {"data":{"name":"d"},"mark":{"type":"line","color":"#ff6d00","strokeWidth":1.5,"clip":true},
  "encoding":{"x":{"field":"i","type":"quantitative","axis":null},"y":{"field":"v","type":"quantitative","axis":null}}},
 {"data":{"values":[{"s":100},{"s":50},{"s":0}]},"mark":{"type":"text","align":"left","baseline":"middle","fontSize":14,"color":"#b2b5be"},
  "encoding":{"y":{"field":"s","type":"quantitative","axis":null},"x":{"datum":251.2,"axis":null},"text":{"field":"s","type":"quantitative","format":".2f"}}},
 {"data":{"values":[{"g":-36,"t":"21:00"},{"g":36,"t":"03:00"},{"g":72,"t":"06:00"},{"g":108,"t":"09:00"},{"g":144,"t":"12:00"},{"g":180,"t":"15:00"},{"g":216,"t":"18:00"}]},
  "mark":{"type":"text","align":"center","baseline":"middle","fontSize":14,"color":"#b2b5be"},
  "encoding":{"x":{"field":"g","type":"quantitative","axis":null},"y":{"datum":-32.3,"axis":null},"text":{"field":"t"}}},
 {"mark":{"type":"text","align":"center","baseline":"middle","fontSize":14,"fontWeight":"bold","color":"#b2b5be"},
  "encoding":{"x":{"datum":0,"axis":null},"y":{"datum":-32.3,"axis":null},"text":{"value":"24"}}},
 {"mark":{"type":"text","align":"left","baseline":"middle","fontSize":13,"color":"#c0c3ca"},
  "encoding":{"x":{"datum":-59.84,"axis":null},"y":{"datum":91.2,"axis":null},"text":{"value":"Stoch RSI (14, 14, 3, 3)"}}},
 {"mark":{"type":"text","align":"left","baseline":"middle","fontSize":13,"color":"#2196f3"},
  "encoding":{"x":{"datum":-9.13,"axis":null},"y":{"datum":91.2,"axis":null},"text":{"value":"69.52"}}},
 {"mark":{"type":"text","align":"left","baseline":"middle","fontSize":13,"color":"#ff6d00"},
  "encoding":{"x":{"datum":5.41,"axis":null},"y":{"datum":91.2,"axis":null},"text":{"value":"54.53"}}}
]
}
],
"spacing":0
}
